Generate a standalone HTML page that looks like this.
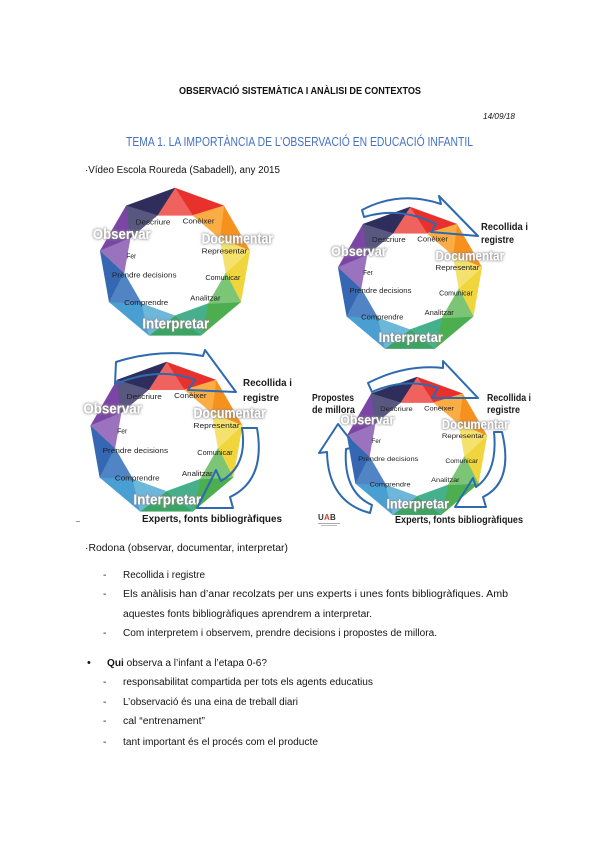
<!DOCTYPE html>
<html><head><meta charset="utf-8"><style>
html,body{margin:0;padding:0;background:#fff;}
svg{display:block;}
text{font-family:"Liberation Sans",sans-serif;}
</style></head><body>
<svg width="600" height="848" viewBox="0 0 600 848" xmlns="http://www.w3.org/2000/svg">
<defs>
<filter id="glow" x="-20%" y="-60%" width="140%" height="220%">
<feMorphology in="SourceAlpha" operator="dilate" radius="0.8" result="d"/>
<feGaussianBlur in="d" stdDeviation="1.6" result="b"/>
<feFlood flood-color="#8a8a8a" flood-opacity="0.85"/>
<feComposite in2="b" operator="in" result="s"/>
<feMerge><feMergeNode in="s"/><feMergeNode in="SourceGraphic"/></feMerge>
</filter>
<g id="wheel" stroke-width="0.6" stroke-linejoin="round">
<polygon points="0,-100 64.28,-76.6 23.26,-63.9" fill="#e8302c" stroke="#e8302c"/>
<polygon points="0,-100 23.26,-63.9 -23.26,-63.9" fill="#f0625e" stroke="#f0625e"/>
<polygon points="64.28,-76.6 98.48,-17.36 58.89,-34" fill="#f7911e" stroke="#f7911e"/>
<polygon points="64.28,-76.6 58.89,-34 23.26,-63.9" fill="#fbad45" stroke="#fbad45"/>
<polygon points="98.48,-17.36 86.6,50 66.97,11.81" fill="#f1d53c" stroke="#f1d53c"/>
<polygon points="98.48,-17.36 66.97,11.81 58.89,-34" fill="#f5e16e" stroke="#f5e16e"/>
<polygon points="86.6,50 34.2,93.97 43.71,52.09" fill="#4cae4f" stroke="#4cae4f"/>
<polygon points="86.6,50 43.71,52.09 66.97,11.81" fill="#7cc576" stroke="#7cc576"/>
<polygon points="34.2,93.97 -34.2,93.97 0,68" fill="#3ba462" stroke="#3ba462"/>
<polygon points="34.2,93.97 0,68 43.71,52.09" fill="#45b08c" stroke="#45b08c"/>
<polygon points="-34.2,93.97 -86.6,50 -43.71,52.09" fill="#4a9fd2" stroke="#4a9fd2"/>
<polygon points="-34.2,93.97 -43.71,52.09 0,68" fill="#6db7da" stroke="#6db7da"/>
<polygon points="-86.6,50 -98.48,-17.36 -66.97,11.81" fill="#3567b3" stroke="#3567b3"/>
<polygon points="-86.6,50 -66.97,11.81 -43.71,52.09" fill="#5184c4" stroke="#5184c4"/>
<polygon points="-98.48,-17.36 -64.28,-76.6 -58.89,-34" fill="#7b45a5" stroke="#7b45a5"/>
<polygon points="-98.48,-17.36 -58.89,-34 -66.97,11.81" fill="#9a72bd" stroke="#9a72bd"/>
<polygon points="-64.28,-76.6 0,-100 -23.26,-63.9" fill="#2f2d5c" stroke="#2f2d5c"/>
<polygon points="-64.28,-76.6 -23.26,-63.9 -58.89,-34" fill="#58577f" stroke="#58577f"/>
</g>
<g id="labels">
<g fill="#222" font-size="9.5">
<text x="-52" y="-52" textLength="46" lengthAdjust="spacingAndGlyphs">Descriure</text>
<text x="10" y="-53" textLength="42" lengthAdjust="spacingAndGlyphs">Conèixer</text>
<text x="35" y="-14" textLength="60" lengthAdjust="spacingAndGlyphs">Representar</text>
<text x="-64" y="-7" textLength="13" lengthAdjust="spacingAndGlyphs">Fer</text>
<text x="-83" y="18" textLength="85" lengthAdjust="spacingAndGlyphs">Prendre decisions</text>
<text x="40" y="21" textLength="46" lengthAdjust="spacingAndGlyphs">Comunicar</text>
<text x="20" y="48" textLength="40" lengthAdjust="spacingAndGlyphs">Analitzar</text>
<text x="-67" y="54" textLength="58" lengthAdjust="spacingAndGlyphs">Comprendre</text>
</g>
<g fill="#ffffff" font-size="19" font-weight="bold" filter="url(#glow)">
<text x="-108" y="-33" textLength="76" lengthAdjust="spacingAndGlyphs">Observar</text>
<text x="35" y="-27" textLength="94" lengthAdjust="spacingAndGlyphs">Documentar</text>
<text x="-43" y="85" textLength="88" lengthAdjust="spacingAndGlyphs">Interpretar</text>
</g>
</g>
</defs>

<!-- Header -->
<text x="179" y="94" font-size="10" font-weight="bold" fill="#111" textLength="242" lengthAdjust="spacingAndGlyphs">OBSERVACIÓ SISTEMÀTICA I ANÀLISI DE CONTEXTOS</text>
<text x="483" y="119" font-size="8" font-style="italic" fill="#111" textLength="32" lengthAdjust="spacingAndGlyphs">14/09/18</text>
<text x="126" y="146" font-size="12.5" fill="#4472c4" textLength="347" lengthAdjust="spacingAndGlyphs">TEMA 1. LA IMPORTÀNCIA DE L’OBSERVACIÓ EN EDUCACIÓ INFANTIL</text>
<text x="85" y="173" font-size="10" fill="#111" textLength="195" lengthAdjust="spacingAndGlyphs">·Vídeo Escola Roureda (Sabadell), any 2015</text>

<!-- Diagram 1 -->
<g transform="translate(175,264) scale(0.76)"><use href="#wheel"/><use href="#labels"/></g>

<!-- Diagram 2 -->
<g transform="translate(410,280) scale(0.73)"><use href="#wheel"/><use href="#labels"/></g>
<g fill="none" stroke="#2d6aaf" stroke-width="2" stroke-linejoin="round">
<path d="M362,210 Q400,190 441,204 L439,196 L478,236 L431,232 L436,224 Q400,206 364,217 Z"/>
</g>
<g font-size="10.5" font-weight="bold" fill="#1a1a1a">
<text x="481" y="230" textLength="47" lengthAdjust="spacingAndGlyphs">Recollida i</text>
<text x="481" y="243" textLength="33" lengthAdjust="spacingAndGlyphs">registre</text>
</g>

<!-- Diagram 3 -->
<g transform="translate(166.5,439) scale(0.77)"><use href="#wheel"/><use href="#labels"/></g>
<g fill="none" stroke="#2d6aaf" stroke-width="2" stroke-linejoin="round">
<path d="M116,362 Q160,348 203,356 L205,350 L236,392 L188,390 L195,380 Q160,366 115,384 Z"/>
<path d="M257,428 Q266,480 230,497 L233,508 L197,508 L216,470 L221,481 Q248,466 242,428 Z"/>
</g>
<g font-size="10.5" font-weight="bold" fill="#1a1a1a">
<text x="243" y="386" textLength="49" lengthAdjust="spacingAndGlyphs">Recollida i</text>
<text x="243" y="401" textLength="36" lengthAdjust="spacingAndGlyphs">registre</text>
<text x="142" y="522" textLength="140" lengthAdjust="spacingAndGlyphs">Experts, fonts bibliogràfiques</text>
</g>
<rect x="76" y="521" width="4" height="1" fill="#999"/>

<!-- Diagram 4 -->
<g transform="translate(417,448) scale(0.71)"><use href="#wheel"/><use href="#labels"/></g>
<g fill="none" stroke="#2d6aaf" stroke-width="2" stroke-linejoin="round">
<path d="M368,383 Q405,364 443,368 L443,361 L478,398 L432,398 L438,388 Q405,377 372,392 Z"/>
<path d="M502,432 Q514,482 483,497 L486,507 L455,507 L473,478 L476,487 Q498,472 494,432 Z"/>
<path d="M370,513 Q328,502 327,452 L319,453 L338,424 L356,447 L346,449 Q343,492 372,505 Z"/>
</g>
<g font-size="10" font-weight="bold" fill="#1a1a1a">
<text x="312" y="401" textLength="42" lengthAdjust="spacingAndGlyphs">Propostes</text>
<text x="312" y="413" textLength="43" lengthAdjust="spacingAndGlyphs">de millora</text>
<text x="487" y="401" textLength="44" lengthAdjust="spacingAndGlyphs">Recollida i</text>
<text x="487" y="413" textLength="33" lengthAdjust="spacingAndGlyphs">registre</text>
<text x="395" y="523" textLength="128" lengthAdjust="spacingAndGlyphs">Experts, fonts bibliogràfiques</text>
</g>
<g font-size="8" font-weight="bold">
<text x="318" y="520" fill="#333">U</text>
<text x="324" y="520" fill="#d9452b">A</text>
<text x="330" y="520" fill="#333">B</text>
</g>
<rect x="318" y="523" width="22" height="1" fill="#aaa"/>
<rect x="321" y="525" width="16" height="1" fill="#bbb"/>

<!-- Body text -->
<g font-size="10" fill="#141414">
<text x="85" y="551" textLength="203" lengthAdjust="spacingAndGlyphs">·Rodona (observar, documentar, interpretar)</text>
<text x="103" y="578">-</text>
<text x="123" y="578" textLength="82" lengthAdjust="spacingAndGlyphs">Recollida i registre</text>
<text x="103" y="597">-</text>
<text x="123" y="597" textLength="385" lengthAdjust="spacingAndGlyphs">Els anàlisis han d’anar recolzats per uns experts i unes fonts bibliogràfiques. Amb</text>
<text x="123" y="617" textLength="249" lengthAdjust="spacingAndGlyphs">aquestes fonts bibliogràfiques aprendrem a interpretar.</text>
<text x="103" y="636">-</text>
<text x="123" y="636" textLength="314" lengthAdjust="spacingAndGlyphs">Com interpretem i observem, prendre decisions i propostes de millora.</text>
<text x="87" y="666" font-size="11">•</text>
<text x="107" y="666" textLength="160" lengthAdjust="spacingAndGlyphs"><tspan font-weight="bold">Qui</tspan> observa a l’infant a l’etapa 0-6?</text>
<text x="103" y="685">-</text>
<text x="123" y="685" textLength="250" lengthAdjust="spacingAndGlyphs">responsabilitat compartida per tots els agents educatius</text>
<text x="103" y="705">-</text>
<text x="123" y="705" textLength="175" lengthAdjust="spacingAndGlyphs">L’observació és una eina de treball diari</text>
<text x="103" y="724">-</text>
<text x="123" y="724" textLength="82" lengthAdjust="spacingAndGlyphs">cal “entrenament”</text>
<text x="103" y="745">-</text>
<text x="123" y="745" textLength="195" lengthAdjust="spacingAndGlyphs">tant important és el procés com el producte</text>
</g>
</svg>
</body></html>
